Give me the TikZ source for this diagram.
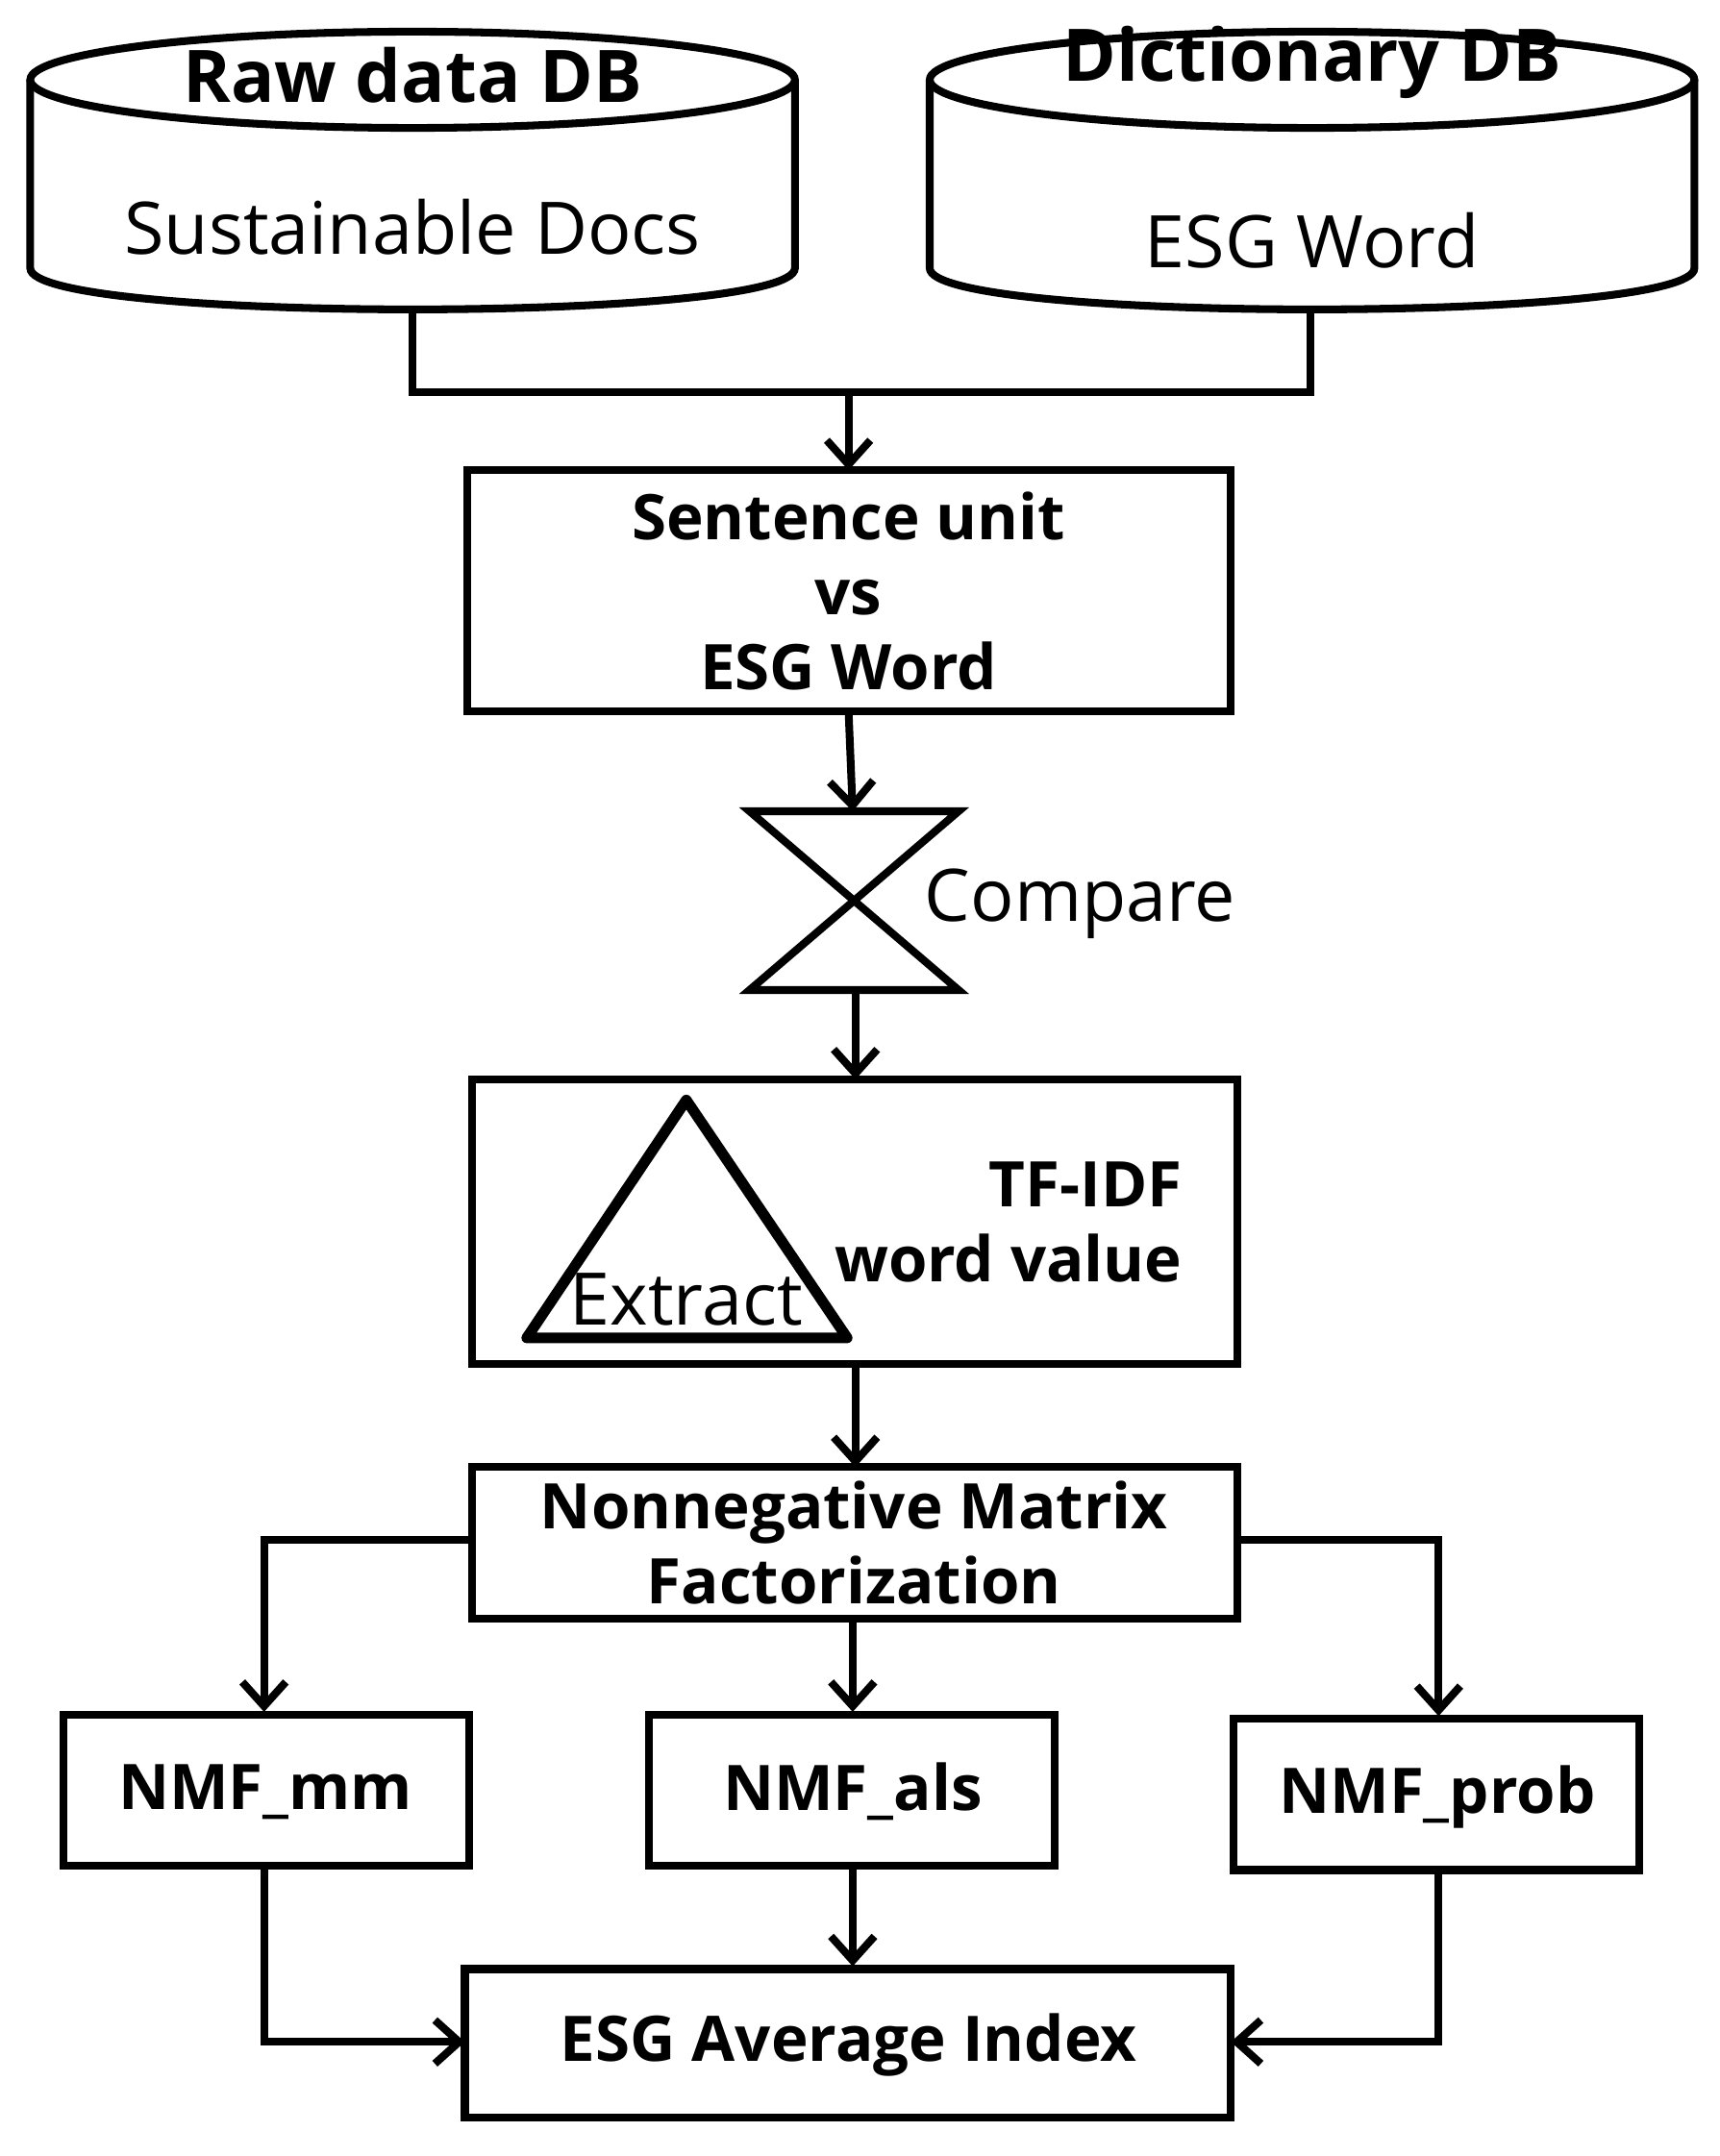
\documentclass[tikz,border=0pt]{standalone}
\usepackage{fontspec}
\setmainfont{Open Sans}
\usetikzlibrary{positioning,calc,arrows.meta}
\tikzset{
  bold/.style={font=\fontsize{13}{15.5}\selectfont\bfseries, align=center},
  plain/.style={font=\fontsize{15}{17}\selectfont},
  arr/.style={line width=1.6pt, -{Straight Barb[length=5pt,width=9pt]}},
  ln/.style={line width=1.6pt}
}
\begin{document}
\begin{tikzpicture}[x=0.01cm,y=-0.01cm]
  \useasboundingbox (0,0) rectangle (1250,1568);
  % databases
  \draw[ln] (22,58) -- (22,195) .. controls (22,235) and (578,235) .. (578,195) -- (578,58);
  \draw[ln] (300,58) ellipse[x radius=278,y radius=35];
  \draw[ln] (676,58) -- (676,195) .. controls (676,235) and (1232,235) .. (1232,195) -- (1232,58);
  \draw[ln] (954,58) ellipse[x radius=278,y radius=35];
  \node[bold, font=\fontsize{15}{17}\selectfont\bfseries] (rawlab) at (300,55) {Raw data DB};
  \node[plain] (raw) at (300,165) {Sustainable Docs};
  \node[bold, font=\fontsize{15}{17}\selectfont\bfseries] (diclab) at (954,45) {Dictionary DB};
  \node[plain] (dic) at (954,175) {ESG Word};
  \coordinate (rawb) at (300,225);
  \coordinate (dicb) at (953,225);
  \coordinate (join) at (617,285);
  \draw[ln] (rawb) |- (join) -| (dicb);
  % sentence box
  \draw[ln] (340,342) rectangle (895,517);
  \node[bold] (sent) at (617,430) {Sentence unit\\vs\\ESG Word};
  \coordinate (senttop) at (617,342);
  \coordinate (sentbot) at (617,517);
  \draw[arr] (join) -- (senttop);
  % compare
  \draw[ln] (545,590) -- (697,590) -- (545,720) -- (697,720) -- cycle;
  \coordinate (cmptop) at (620,590);
  \coordinate (cmpbot) at (622,720);
  \node[plain, anchor=west] (cmp) at (660,657) {Compare};
  \draw[arr] (sentbot) -- (cmptop);
  % tf-idf box
  \draw[ln] (343,785) rectangle (900,992);
  \coordinate (tftop) at (622,785);
  \coordinate (tfbot) at (622,992);
  \draw[line width=2.2pt, line join=round] (383,973) -- (616,973) -- (499,800) -- cycle;
  \node[plain] (ext) at (499,945) {Extract};
  \node[bold, align=right, anchor=east] (tf) at (872,889) {TF-IDF\\word value};
  \draw[arr] (cmpbot) -- (tftop);
  % nmf
  \draw[ln] (343,1067) rectangle (900,1177);
  \node[bold] (nmf) at (621,1122) {Nonnegative Matrix\\Factorization};
  \coordinate (nmftop) at (622,1067);
  \coordinate (nmfl) at (343,1120);
  \coordinate (nmfr) at (900,1120);
  \coordinate (nmfb) at (620,1177);
  \draw[arr] (tfbot) -- (nmftop);
  % methods
  \draw[ln] (46,1247) rectangle (341,1357);
  \node[bold] (mm) at (193,1303) {NMF\_mm};
  \draw[ln] (472,1247) rectangle (767,1357);
  \node[bold] (als) at (620,1303) {NMF\_als};
  \draw[ln] (897,1250) rectangle (1192,1360);
  \node[bold] (prob) at (1045,1307) {NMF\_prob};
  \coordinate (mmt) at (192,1245);
  \coordinate (alst) at (620,1245);
  \coordinate (probt) at (1046,1248);
  \coordinate (mmb) at (192,1357);
  \coordinate (alsb) at (620,1357);
  \coordinate (probb) at (1046,1360);
  \draw[arr] (nmfl) -| (mmt);
  \draw[arr] (nmfr) -| (probt);
  \draw[arr] (nmfb) -- (alst);
  % average
  \draw[ln] (338,1432) rectangle (895,1540);
  \node[bold] (avg) at (617,1487) {ESG Average Index};
  \coordinate (avgl) at (338,1485);
  \coordinate (avgr) at (895,1485);
  \coordinate (avgt) at (620,1430);
  \draw[arr] (mmb) |- (avgl);
  \draw[arr] (probb) |- (avgr);
  \draw[arr] (alsb) -- (avgt);
\end{tikzpicture}
\end{document}
